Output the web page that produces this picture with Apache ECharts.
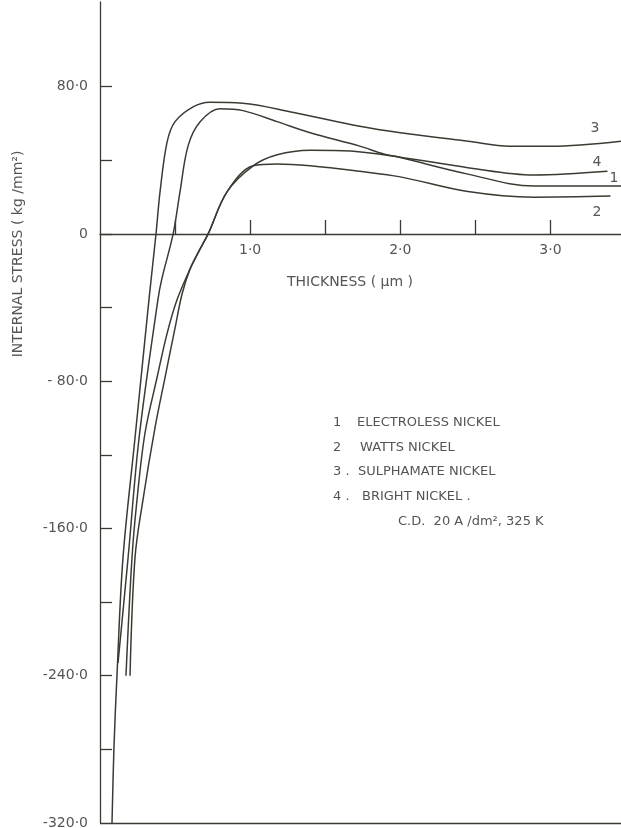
<!DOCTYPE html>
<html>
<head>
<meta charset="utf-8">
<script src="https://cdn.jsdelivr.net/npm/echarts@6/dist/echarts.min.js"></script>
<style>
  html, body { margin: 0; padding: 0; background: #fff; }
  #chart { width: 621px; height: 828px; }
</style>
</head>
<body>
<div id="chart"></div>
<script>
// 厚度 (µm) 与 内应力 (kg/mm2)，四条曲线各自的读数
var thick1 = [0.12, 0.187, 0.26, 0.387, 0.413, 0.487, 0.533, 0.587, 0.667, 0.8, 0.953, 1.18, 1.4, 1.73, 1.89, 2.0, 2.45, 2.89, 3.47];
var stress1 = [-233, -176, -111, -35, -24, 0, 23, 48, 61, 68, 67, 61, 55, 47.7, 43.4, 41.5, 32.5, 26, 26];

var thick2 = [0.2, 0.233, 0.287, 0.367, 0.433, 0.5, 0.547, 0.6, 0.66, 0.72, 0.847, 1.02, 1.18, 1.4, 1.73, 2.0, 2.45, 2.89, 3.4];
var stress2 = [-240, -176, -144, -105, -78, -51, -32.5, -19, -9.2, 0, 23, 37, 38, 37, 34, 31, 23, 20, 20.6];

var thick3 = [0.08, 0.093, 0.113, 0.153, 0.233, 0.327, 0.373, 0.4, 0.447, 0.5, 0.62, 0.73, 0.95, 1.29, 1.73, 2.0, 2.45, 2.73, 3.0, 3.47];
var stress3 = [-320, -279, -240, -176, -111, -35, 0, 23, 50, 61, 69, 71.5, 71, 66, 58.5, 55, 50.4, 47.7, 47.7, 50.4];

var thick4 = [0.173, 0.213, 0.247, 0.3, 0.38, 0.447, 0.513, 0.6, 0.66, 0.72, 0.847, 1.02, 1.18, 1.4, 1.67, 2.0, 2.45, 2.89, 3.38];
var stress4 = [-240, -176, -144, -108, -78, -54, -35.8, -19, -9.2, 0, 23, 37, 43, 45.5, 45, 41.7, 36, 32, 34];

var curveNames = ['ELECTROLESS NICKEL', 'WATTS NICKEL', 'SULPHAMATE NICKEL', 'BRIGHT NICKEL'];
var yTicks = [-280, -240, -200, -160, -120, -80, -40, 0, 40, 80];
var yLabels = [-320, -240, -160, -80, 0, 80];
var xTicks = [0.5, 1.0, 1.5, 2.0, 2.5, 3.0];
var xLabels = [1.0, 2.0, 3.0];

var lineColor = '#3b3b33';
var textColor = '#555';
var font = 'DejaVu Sans';

var yMin = -320, yMax = 126;
var gridTop = 2, gridBottom = 5, chartH = 828;

function pairs(xs, ys) {
    var out = [];
    for (var i = 0; i < xs.length; i++) {
        out.push([xs[i], ys[i]]);
    }
    return out;
}

var allData = [pairs(thick1, stress1), pairs(thick2, stress2), pairs(thick3, stress3), pairs(thick4, stress4)];
var series = [];
for (var i = 0; i < 4; i++) {
    series.push({
        name: curveNames[i],
        type: 'line',
        data: allData[i],
        smooth: 0.35,
        showSymbol: false,
        lineStyle: { color: lineColor, width: 1.5 },
        z: 3
    });
}
// 底部边线 (-320)
series[0].markLine = {
    silent: true,
    symbol: 'none',
    label: { show: false },
    lineStyle: { color: lineColor, width: 1.3, type: 'solid' },
    data: [{ yAxis: yMin }]
};

function yFmt(v) {
    if (v === 0) return '0';
    if (v === 80) return '80·0';
    if (v === -80) return '- 80·0';
    return String(v) + '·0';
}

// x轴画在 0 应力处：从底边向上平移
var plotH = chartH - gridTop - gridBottom;
var zeroOffset = -Math.round(plotH * (0 - yMin) / (yMax - yMin));

var dom = echarts.init(document.getElementById('chart'));
var option = {
    backgroundColor: '#fff',
    animation: false,
    grid: { left: 100, right: 0, top: gridTop, bottom: gridBottom, outerBoundsMode: 'none' },
    xAxis: {
        type: 'value',
        position: 'bottom',
        offset: zeroOffset,
        min: 0,
        max: 3.47,
        interval: 0.5,
        axisLine: { onZero: false, lineStyle: { color: lineColor, width: 1.3 } },
        axisTick: { inside: true, length: 14, customValues: xTicks, lineStyle: { color: lineColor, width: 1.3 } },
        axisLabel: {
            customValues: xLabels,
            margin: 9,
            color: textColor,
            fontFamily: font,
            fontSize: 14,
            formatter: function (v) { return v.toFixed(1).replace('.', '·'); }
        },
        splitLine: { show: false }
    },
    yAxis: {
        type: 'value',
        min: yMin,
        max: yMax,
        interval: 40,
        axisLine: { show: true, onZero: false, lineStyle: { color: lineColor, width: 1.3 } },
        axisTick: { inside: true, length: 12, customValues: yTicks, lineStyle: { color: lineColor, width: 1.3 } },
        axisLabel: {
            customValues: yLabels,
            margin: 12,
            color: textColor,
            fontFamily: font,
            fontSize: 14,
            formatter: yFmt
        },
        splitLine: { show: false }
    },
    graphic: [
        // 坐标轴名称
        {
            type: 'text', x: 18, y: 254, rotation: Math.PI / 2,
            style: { text: 'INTERNAL STRESS ( kg /mm²)', fill: textColor, font: '14px ' + font, align: 'center', verticalAlign: 'middle' }
        },
        {
            type: 'text', x: 350, y: 282,
            style: { text: 'THICKNESS ( µm )', fill: textColor, font: '14px ' + font, align: 'center', verticalAlign: 'middle' }
        },
        // 曲线编号
        { type: 'text', x: 595, y: 128, style: { text: '3', fill: textColor, font: '14px ' + font, align: 'center', verticalAlign: 'middle' } },
        { type: 'text', x: 597, y: 162, style: { text: '4', fill: textColor, font: '14px ' + font, align: 'center', verticalAlign: 'middle' } },
        { type: 'text', x: 614, y: 178, style: { text: '1', fill: textColor, font: '14px ' + font, align: 'center', verticalAlign: 'middle' } },
        { type: 'text', x: 597, y: 212, style: { text: '2', fill: textColor, font: '14px ' + font, align: 'center', verticalAlign: 'middle' } },
        // 图例说明
        { type: 'text', x: 333, y: 423, style: { text: '1', fill: textColor, font: '13px ' + font, verticalAlign: 'middle' } },
        { type: 'text', x: 357, y: 423, style: { text: curveNames[0], fill: textColor, font: '13px ' + font, verticalAlign: 'middle' } },
        { type: 'text', x: 333, y: 448, style: { text: '2', fill: textColor, font: '13px ' + font, verticalAlign: 'middle' } },
        { type: 'text', x: 360, y: 448, style: { text: curveNames[1], fill: textColor, font: '13px ' + font, verticalAlign: 'middle' } },
        { type: 'text', x: 333, y: 472, style: { text: '3 .', fill: textColor, font: '13px ' + font, verticalAlign: 'middle' } },
        { type: 'text', x: 358, y: 472, style: { text: curveNames[2], fill: textColor, font: '13px ' + font, verticalAlign: 'middle' } },
        { type: 'text', x: 333, y: 497, style: { text: '4 .', fill: textColor, font: '13px ' + font, verticalAlign: 'middle' } },
        { type: 'text', x: 362, y: 497, style: { text: curveNames[3] + ' .', fill: textColor, font: '13px ' + font, verticalAlign: 'middle' } },
        { type: 'text', x: 398, y: 522, style: { text: 'C.D.  20 A /dm², 325 K', fill: textColor, font: '13px ' + font, verticalAlign: 'middle' } }
    ],
    series: series
};
dom.setOption(option);
</script>
</body>
</html>
